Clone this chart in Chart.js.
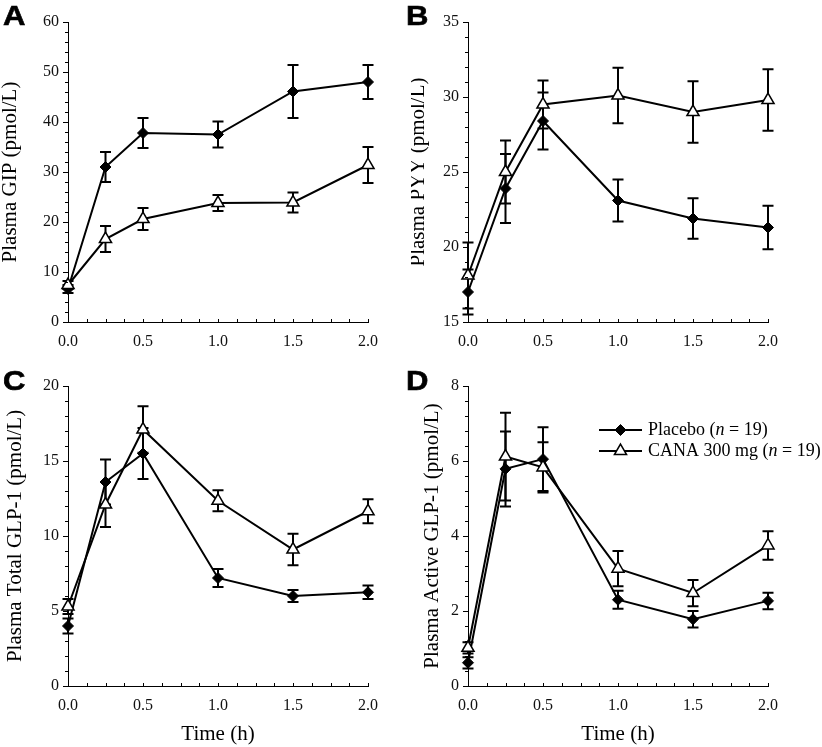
<!DOCTYPE html>
<html>
<head>
<meta charset="utf-8">
<script src="https://cdn.jsdelivr.net/npm/chart.js@4"></script>
<style>
  html, body { margin: 0; padding: 0; background: #fff; }
  #wrap { position: relative; width: 822px; height: 747px; background: #fff; overflow: hidden; }
  canvas { position: absolute; }
  .letter {
    position: absolute;
    font: bold 27px/27px "Liberation Sans", Arial, sans-serif;
    color: #000;
    transform: scaleX(1.15);
    transform-origin: left top;
    -webkit-text-stroke: 0.6px #000;
  }
</style>
</head>
<body>
<div id="wrap">
  <canvas id="cA" width="411" height="365" style="left:0;top:0"></canvas>
  <canvas id="cB" width="411" height="365" style="left:411px;top:0"></canvas>
  <canvas id="cC" width="411" height="382" style="left:0;top:365px"></canvas>
  <canvas id="cD" width="411" height="382" style="left:411px;top:365px"></canvas>
  <div class="letter" style="left:3px;top:3px">A</div>
  <div class="letter" style="left:406px;top:3px">B</div>
  <div class="letter" style="left:3px;top:368px">C</div>
  <div class="letter" style="left:406px;top:368px">D</div>
</div>
<script>
// sampling times (h)
const times = [0, 0.25, 0.5, 1.0, 1.5, 2.0];

// A: GIP
const gipPlacebo = [6.6, 31.0, 37.8, 37.5, 46.1, 48.0];
const gipPlaceboErr = [0.8, 3.0, 3.0, 2.6, 5.3, 3.4];
const gipCana = [7.4, 16.6, 20.6, 23.8, 23.9, 31.4];
const gipCanaErr = [0.8, 2.6, 2.2, 1.6, 2.0, 3.6];

// B: PYY
const pyyPlacebo = [17.0, 23.9, 28.4, 23.1, 21.9, 21.3];
const pyyPlaceboErr = [1.5, 2.3, 1.9, 1.4, 1.35, 1.45];
const pyyCana = [18.1, 25.0, 29.5, 30.1, 29.0, 29.8];
const pyyCanaErr = [2.2, 2.1, 1.6, 1.85, 2.05, 2.05];

// C: total GLP-1
const totPlacebo = [4.0, 13.6, 15.5, 7.2, 6.0, 6.25];
const totPlaceboErr = [0.5, 1.5, 1.7, 0.6, 0.4, 0.45];
const totCana = [5.3, 12.1, 17.1, 12.35, 9.1, 11.65];
const totCanaErr = [0.5, 1.5, 1.55, 0.7, 1.05, 0.8];

// D: active GLP-1
const actPlacebo = [0.62, 5.79, 6.05, 2.3, 1.78, 2.27];
const actPlaceboErr = [0.15, 1.0, 0.85, 0.24, 0.22, 0.22];
const actCana = [1.02, 6.12, 5.83, 3.13, 2.48, 3.75];
const actCanaErr = [0.15, 1.17, 0.67, 0.47, 0.35, 0.38];

const serif = '"Liberation Serif", "Times New Roman", Times, serif';

// error bars drawn behind the markers
const errorBars = {
  id: 'errorBars',
  beforeDatasetsDraw(chart) {
    const { ctx, scales: { x, y } } = chart;
    ctx.save();
    ctx.strokeStyle = '#000';
    ctx.lineWidth = 2;
    chart.data.datasets.forEach(ds => {
      ds.data.forEach((p, i) => {
        const e = ds.errors[i];
        const px = x.getPixelForValue(p.x);
        const top = y.getPixelForValue(p.y + e);
        const bot = y.getPixelForValue(p.y - e);
        ctx.beginPath();
        ctx.moveTo(px, top); ctx.lineTo(px, bot);
        ctx.moveTo(px - 5.5, top); ctx.lineTo(px + 5.5, top);
        ctx.moveTo(px - 5.5, bot); ctx.lineTo(px + 5.5, bot);
        ctx.stroke();
      });
    });
    ctx.restore();
  }
};

// major/minor tick marks (y outside, x inside)
const axisTicks = {
  id: 'axisTicks',
  afterDraw(chart, args, opts) {
    const { ctx, chartArea: a, scales: { x, y } } = chart;
    ctx.save();
    ctx.strokeStyle = '#000';
    ctx.lineWidth = 1;
    ctx.beginPath();
    const ny = Math.round((y.max - y.min) / opts.yMinor);
    for (let i = 0; i <= ny; i++) {
      const py = Math.round(y.getPixelForValue(y.min + i * opts.yMinor)) + 0.5;
      const len = i % opts.yPer === 0 ? 5 : 3;
      ctx.moveTo(a.left - len, py); ctx.lineTo(a.left, py);
    }
    const nx = Math.round((x.max - x.min) / 0.125);
    for (let i = 1; i <= nx; i++) {
      const px = Math.round(x.getPixelForValue(x.min + i * 0.125)) + 0.5;
      ctx.moveTo(px, a.bottom); ctx.lineTo(px, a.bottom - 3);
    }
    ctx.stroke();
    ctx.restore();
  }
};

function diamond(ctx, x, y, r) {
  ctx.beginPath();
  ctx.moveTo(x - r, y); ctx.lineTo(x, y - r); ctx.lineTo(x + r, y); ctx.lineTo(x, y + r);
  ctx.closePath();
  ctx.fillStyle = '#000'; ctx.fill();
  ctx.lineWidth = 1; ctx.strokeStyle = '#000'; ctx.stroke();
}
function triangle(ctx, x, y, r) {
  ctx.beginPath();
  for (let k = 0; k < 3; k++) {
    const ang = k * 2 * Math.PI / 3;
    const vx = x + Math.sin(ang) * r, vy = y - Math.cos(ang) * r;
    if (k === 0) ctx.moveTo(vx, vy); else ctx.lineTo(vx, vy);
  }
  ctx.closePath();
  ctx.fillStyle = '#fff'; ctx.fill();
  ctx.lineWidth = 1.5; ctx.strokeStyle = '#000'; ctx.stroke();
}

const legendRows = [
  { parts: ['Placebo (', 'n', ' = 19)'], marker: 'diamond' },
  { parts: ['CANA 300 mg (', 'n', ' = 19)'], marker: 'triangle' }
];

const customLegend = {
  id: 'customLegend',
  afterDraw(chart, args, opts) {
    if (!opts.show) return;
    const ctx = chart.ctx;
    ctx.save();
    legendRows.forEach((row, i) => {
      const ly = opts.y + i * opts.gap;
      ctx.strokeStyle = '#000';
      ctx.lineWidth = 2;
      ctx.beginPath();
      ctx.moveTo(opts.x, ly); ctx.lineTo(opts.x + 43, ly);
      ctx.stroke();
      if (row.marker === 'diamond') diamond(ctx, opts.x + 21.5, ly, 5.5);
      else triangle(ctx, opts.x + 21.5, ly, 7);
      let tx = opts.x + 49;
      ctx.fillStyle = '#000';
      ctx.textBaseline = 'middle';
      row.parts.forEach((t, k) => {
        ctx.font = (k === 1 ? 'italic ' : '') + '18px ' + serif;
        ctx.fillText(t, tx, ly);
        tx += ctx.measureText(t).width;
      });
    });
    ctx.restore();
  }
};

function points(vals) {
  return times.map((t, i) => ({ x: t, y: vals[i] }));
}

function makePanel(id, p) {
  new Chart(document.getElementById(id), {
    type: 'line',
    data: {
      datasets: [
        {
          label: 'Placebo (n = 19)',
          data: points(p.placebo),
          errors: p.placeboErr,
          borderColor: '#000',
          borderWidth: 2,
          pointStyle: 'rectRot',
          pointRadius: 5.5,
          pointBackgroundColor: '#000',
          pointBorderColor: '#000',
          pointBorderWidth: 1,
          clip: false,
          order: 1
        },
        {
          label: 'CANA 300 mg (n = 19)',
          data: points(p.cana),
          errors: p.canaErr,
          borderColor: '#000',
          borderWidth: 2,
          pointStyle: 'triangle',
          pointRadius: 7,
          pointBackgroundColor: '#fff',
          pointBorderColor: '#000',
          pointBorderWidth: 1.5,
          clip: false,
          order: 0
        }
      ]
    },
    options: {
      responsive: false,
      animation: false,
      events: [],
      layout: { padding: { top: p.top, right: p.right, left: 0, bottom: 0 } },
      scales: {
        x: {
          type: 'linear',
          min: 0,
          max: 2,
          afterFit: s => { s.height = p.xh; },
          grid: { display: false, drawTicks: false },
          border: { display: true, color: '#000', width: 1 },
          ticks: {
            stepSize: 0.5,
            padding: 10,
            color: '#111',
            font: { family: serif, size: 16 },
            callback: v => v.toFixed(1)
          },
          title: {
            display: p.xTitle,
            text: 'Time (h)',
            color: '#000',
            font: { family: serif, size: 21, lineHeight: 1 },
            padding: { top: 0, bottom: 2 }
          }
        },
        y: {
          min: p.yMin,
          max: p.yMax,
          afterFit: s => { s.width = p.yw; },
          grid: { display: false, drawTicks: false },
          border: { display: true, color: '#000', width: 1 },
          ticks: {
            stepSize: p.yStep,
            padding: 9,
            color: '#111',
            font: { family: serif, size: 16 }
          },
          title: {
            display: true,
            text: p.yTitle,
            color: '#000',
            font: { family: serif, size: 21, lineHeight: 1 },
            padding: { top: p.yTitlePad, bottom: 0 }
          }
        }
      },
      plugins: {
        legend: { display: false },
        tooltip: { enabled: false },
        axisTicks: { yMinor: p.yMinor, yPer: Math.round(p.yStep / p.yMinor) },
        customLegend: { show: !!p.legend, x: 188, y: 65, gap: 21 }
      }
    },
    plugins: [errorBars, axisTicks, customLegend]
  });
}

makePanel('cA', {
  placebo: gipPlacebo, placeboErr: gipPlaceboErr, cana: gipCana, canaErr: gipCanaErr,
  yMin: 0, yMax: 60, yStep: 10, yMinor: 2, yTitle: 'Plasma GIP (pmol/L)',
  top: 22, right: 43, yw: 68, xh: 43, yTitlePad: 0, xTitle: false
});
makePanel('cB', {
  placebo: pyyPlacebo, placeboErr: pyyPlaceboErr, cana: pyyCana, canaErr: pyyCanaErr,
  yMin: 15, yMax: 35, yStep: 5, yMinor: 1, yTitle: 'Plasma PYY (pmol/L)',
  top: 22, right: 54, yw: 57, xh: 43, yTitlePad: -3, xTitle: false
});
makePanel('cC', {
  placebo: totPlacebo, placeboErr: totPlaceboErr, cana: totCana, canaErr: totCanaErr,
  yMin: 0, yMax: 20, yStep: 5, yMinor: 1, yTitle: 'Plasma Total GLP-1 (pmol/L)',
  top: 21, right: 43, yw: 68, xh: 61, yTitlePad: 5, xTitle: true
});
makePanel('cD', {
  placebo: actPlacebo, placeboErr: actPlaceboErr, cana: actCana, canaErr: actCanaErr,
  yMin: 0, yMax: 8, yStep: 2, yMinor: 0.4, yTitle: 'Plasma Active GLP-1 (pmol/L)',
  top: 21, right: 54, yw: 57, xh: 61, yTitlePad: 11, xTitle: true, legend: true
});
</script>
</body>
</html>
